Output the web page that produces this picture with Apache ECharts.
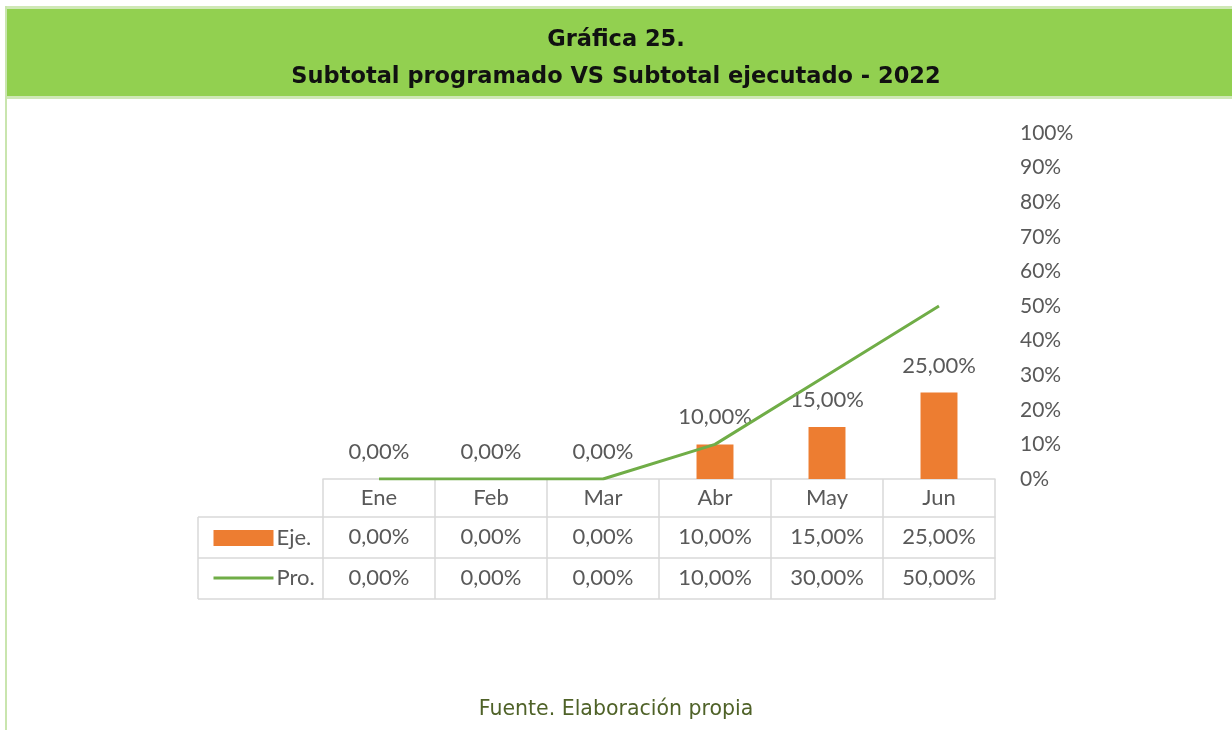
<!DOCTYPE html>
<html>
<head>
<meta charset="utf-8">
<script src="https://cdn.jsdelivr.net/npm/echarts@6/dist/echarts.min.js"></script>
<style>
  html, body { margin: 0; padding: 0; background: #fff; }
  #chart { width: 1232px; height: 730px; }
</style>
</head>
<body>
<div id="chart"></div>
<script>
// Months of the first semester
const categories = ['Ene', 'Feb', 'Mar', 'Abr', 'May', 'Jun'];
// Executed subtotal (fraction of 1)
const ejecutado = [0, 0, 0, 0.10, 0.15, 0.25];
// Programmed subtotal (fraction of 1)
const programado = [0, 0, 0, 0.10, 0.30, 0.50];
// Right axis tick labels
const yTicks = ['0%', '10%', '20%', '30%', '40%', '50%', '60%', '70%', '80%', '90%', '100%'];

const titleLines = ['Gráfica 25.', 'Subtotal programado VS Subtotal ejecutado - 2022'];
const sourceNote = 'Fuente. Elaboración propia';

const ORANGE = '#ED7D31';
const GREEN = '#70AD47';
const GRID_LINE = '#d9d9d9';
const TEXT = '#595959';
const FONT = 'Lato, "Open Sans", sans-serif';
const FS = 22;

const pct = v => (v * 100).toFixed(2).replace('.', ',') + '%';

// Geometry of the plot and the data table underneath it
const gridLeft = 323, gridRight = 995, gridTop = 133, gridBottom = 479;
const rowH = [38, 41, 41];

const chart = echarts.init(document.getElementById('chart'), null, { renderer: 'canvas' });

// One bottom axis per table row; ticks draw the column dividers
function tableAxis(offset, tickLen, labelFn, margin) {
  return {
    type: 'category',
    data: categories,
    position: 'bottom',
    offset: offset,
    boundaryGap: true,
    axisLine: { show: true, lineStyle: { color: GRID_LINE, width: 1.5 } },
    axisTick: { show: tickLen > 0, length: tickLen, lineStyle: { color: GRID_LINE, width: 1.5 } },
    axisLabel: {
      show: !!labelFn,
      formatter: labelFn || (() => ''),
      margin: margin,
      color: TEXT,
      fontSize: FS,
      fontFamily: FONT
    },
    splitLine: { show: false }
  };
}

const option = {
  animation: false,
  backgroundColor: '#ffffff',
  textStyle: { fontFamily: FONT },
  grid: {
    left: gridLeft,
    right: 1232 - gridRight,
    top: gridTop,
    bottom: 730 - gridBottom,
    containLabel: false
  },
  legend: {
    orient: 'vertical',
    left: 207,
    top: 522,
    itemWidth: 60,
    itemHeight: 16,
    itemGap: 18,
    data: [
      { name: 'Eje.', icon: 'rect' },
      // plain line key, no point marker
      { name: 'Pro.', itemStyle: { opacity: 0 }, lineStyle: { width: 3, color: GREEN } }
    ],
    textStyle: { color: TEXT, fontSize: FS, fontFamily: FONT, padding: [0, 0, 0, -2] },
    selectedMode: false
  },
  xAxis: [
    tableAxis(0, rowH[0], v => v, 8),
    tableAxis(rowH[0], rowH[1], (v, i) => pct(ejecutado[i]), 9),
    tableAxis(rowH[0] + rowH[1], rowH[2], (v, i) => pct(programado[i]), 9),
    tableAxis(rowH[0] + rowH[1] + rowH[2], 0, null, 0)
  ],
  yAxis: {
    type: 'value',
    position: 'right',
    min: 0,
    max: 1,
    interval: 0.1,
    axisLine: { show: false },
    axisTick: { show: false },
    splitLine: { show: false },
    axisLabel: {
      margin: 25,
      color: TEXT,
      fontSize: 21,
      fontFamily: FONT,
      formatter: v => yTicks[Math.round(v * 10)]
    }
  },
  series: [
    {
      name: 'Eje.',
      type: 'bar',
      xAxisIndex: 0,
      data: ejecutado,
      barWidth: '33%',
      itemStyle: { color: ORANGE },
      label: {
        show: true,
        position: 'top',
        distance: 16,
        color: TEXT,
        fontSize: FS,
        fontFamily: FONT,
        formatter: p => pct(p.value)
      },
      z: 2
    },
    {
      name: 'Pro.',
      type: 'line',
      xAxisIndex: 0,
      data: programado,
      symbol: 'none',
      lineStyle: { color: GREEN, width: 3 },
      itemStyle: { color: GREEN },
      z: 3
    }
  ],
  graphic: [
    // Heading banner
    { type: 'rect', shape: { x: 6, y: 6, width: 1226, height: 3 }, style: { fill: '#cfe8b6' }, silent: true },
    { type: 'rect', shape: { x: 7, y: 9, width: 1225, height: 87 }, style: { fill: '#92D050' }, silent: true },
    { type: 'rect', shape: { x: 7, y: 96, width: 1225, height: 3 }, style: { fill: '#cfe8b6' }, silent: true },
    { type: 'rect', shape: { x: 5, y: 6, width: 2, height: 724 }, style: { fill: '#c9e5ae' }, silent: true },
    {
      type: 'text', left: 'center', top: 29, silent: true,
      style: { text: titleLines[0], fill: '#111', font: 'bold 22.5px "DejaVu Sans", sans-serif', textAlign: 'center' }
    },
    {
      type: 'text', left: 'center', top: 66, silent: true,
      style: { text: titleLines[1], fill: '#111', font: 'bold 22.5px "DejaVu Sans", sans-serif', textAlign: 'center' }
    },
    // Left column of the data table (series names)
    { type: 'line', shape: { x1: 198, y1: 517, x2: gridLeft, y2: 517 }, style: { stroke: GRID_LINE, lineWidth: 1.5 }, silent: true },
    { type: 'line', shape: { x1: 198, y1: 558, x2: gridLeft, y2: 558 }, style: { stroke: GRID_LINE, lineWidth: 1.5 }, silent: true },
    { type: 'line', shape: { x1: 198, y1: 599, x2: gridLeft, y2: 599 }, style: { stroke: GRID_LINE, lineWidth: 1.5 }, silent: true },
    { type: 'line', shape: { x1: 198, y1: 517, x2: 198, y2: 599 }, style: { stroke: GRID_LINE, lineWidth: 1.5 }, silent: true },
    // Source note
    {
      type: 'text', left: 'center', top: 699, silent: true,
      style: { text: sourceNote, fill: '#4F6228', font: '20.5px "DejaVu Sans", sans-serif', textAlign: 'center' }
    }
  ]
};

chart.setOption(option);
</script>
</body>
</html>
